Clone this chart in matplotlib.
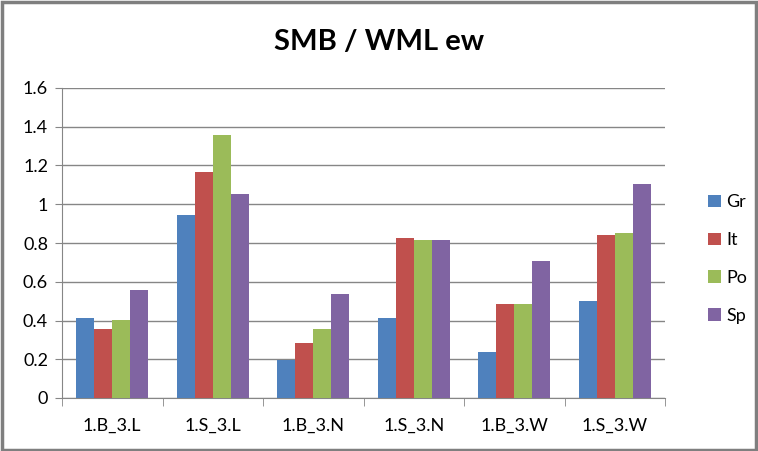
import matplotlib
matplotlib.use("Agg")
import matplotlib.pyplot as plt
import numpy as np
from matplotlib.patches import Rectangle

categories = ["1.B_3.L", "1.S_3.L", "1.B_3.N", "1.S_3.N", "1.B_3.W", "1.S_3.W"]
series_names = ["Gr", "It", "Po", "Sp"]
gr = [0.413, 0.946, 0.196, 0.415, 0.239, 0.502]
it = [0.356, 1.168, 0.286, 0.828, 0.487, 0.840]
po = [0.401, 1.359, 0.358, 0.817, 0.487, 0.853]
sp = [0.559, 1.055, 0.538, 0.817, 0.709, 1.106]
colors = ["#4F81BD", "#C0504D", "#9BBB59", "#8064A2"]

plt.rcParams['font.family'] = ['Lato', 'DejaVu Sans']

fig = plt.figure(figsize=(7.58, 4.51), dpi=100)
ax = fig.add_axes([62/758, (451-398)/451, (665-62)/758, (398-88)/451])

x = np.arange(len(categories))
w = 0.18
for i, (name, vals) in enumerate(zip(series_names, [gr, it, po, sp])):
    ax.bar(x + (i - 1.5) * w, vals, width=w, color=colors[i], label=name, zorder=3)

ax.set_xlim(-0.5, len(categories) - 0.5)
ax.set_ylim(0, 1.6)
ax.set_yticks(np.arange(0, 1.61, 0.2))
ax.set_yticklabels(["0", "0.2", "0.4", "0.6", "0.8", "1", "1.2", "1.4", "1.6"], fontsize=13)
ax.yaxis.grid(True, color="#868686", linewidth=1, zorder=0)
ax.set_xticks(x)
ax.set_xticklabels(categories, fontsize=13)
ax.set_xticks(np.arange(-0.5, len(categories)), minor=True)
ax.tick_params(axis='x', which='major', length=0, pad=14)
ax.tick_params(axis='x', which='minor', length=6, color="#868686", direction='out')
ax.tick_params(axis='y', length=5, color="#868686", direction='out', pad=5)
for s in ["top", "right"]:
    ax.spines[s].set_visible(False)
ax.spines["left"].set_color("#868686")
ax.spines["bottom"].set_color("#868686")

fig.text(0.5, 1 - 42/451, "SMB / WML ew", ha="center", va="center", fontsize=21, fontweight="bold")

leg = fig.legend(loc="center left", bbox_to_anchor=(692/758, 1 - 259/451), frameon=False,
                 fontsize=13, handlelength=0.7, handleheight=0.7, labelspacing=1.2, handletextpad=0.3)

fig.patches.append(Rectangle((0.002, 0.003), 0.995, 0.993, transform=fig.transFigure,
                             fill=False, edgecolor="#7f7f7f", linewidth=2.5))

fig.savefig("out.png", dpi=100)
